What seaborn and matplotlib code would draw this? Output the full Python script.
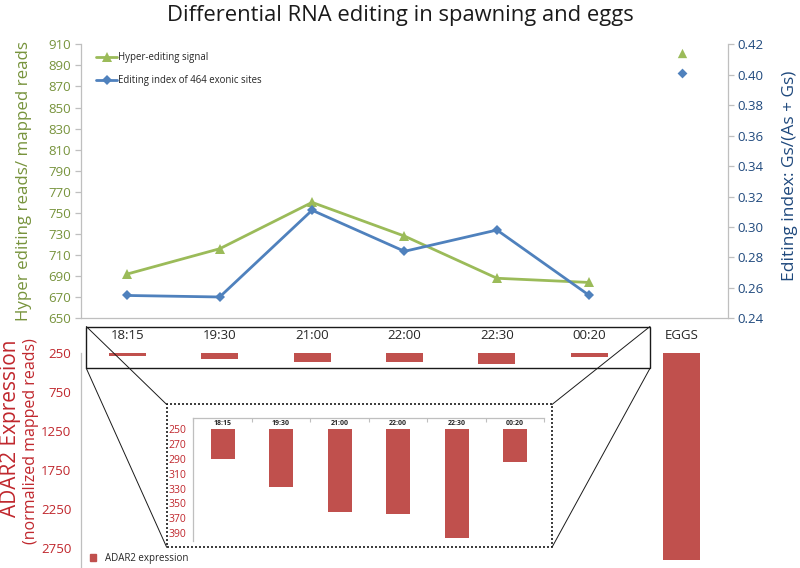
import numpy as np
import pandas as pd
import matplotlib
matplotlib.use("Agg")
import matplotlib.pyplot as plt
from matplotlib.lines import Line2D
from matplotlib.patches import Rectangle, Patch
import seaborn as sns

# ---- data ----
times = ["18:15", "19:30", "21:00", "22:00", "22:30", "00:20"]
groups = times + ["EGGS"]
hyper_signal = [692, 716, 760, 728, 688, 684]
hyper_eggs = 902
edit_index = [0.255, 0.254, 0.311, 0.284, 0.298, 0.255]
edit_eggs = 0.401
adar2 = [290, 328, 361, 364, 396, 295]
adar2_eggs = 2900

left_ticks = list(range(650, 911, 20))
right_ticks = [0.24, 0.26, 0.28, 0.30, 0.32, 0.34, 0.36, 0.38, 0.40, 0.42]
adar_ticks = [250, 750, 1250, 1750, 2250, 2750]
inset_ticks = list(range(250, 391, 20))

sns.set_theme(style="white")
plt.rcParams["font.family"] = ["Open Sans", "DejaVu Sans"]

GREEN, GREEN_TXT = "#9BBB59", "#77933C"
BLUE, BLUE_TXT = "#4F81BD", "#1F497D"
RED, RED_TXT = "#C0504D", "#C0272D"
GRAY = "#BFBFBF"

W, H = 800, 568
fig = plt.figure(figsize=(8, 5.68), dpi=100)


def px_box(x0, y0, x1, y1):
    # pixel box (top-left origin) -> figure fraction rect
    return [x0 / W, 1 - y1 / H, (x1 - x0) / W, (y1 - y0) / H]


def fx(x):
    return x / W


def fy(y):
    return 1 - y / H


def gray_spines(a, keep):
    for side, sp in a.spines.items():
        sp.set_visible(side in keep)
        sp.set_color(GRAY)
        sp.set_linewidth(0.9)


# ---------------- top: editing signal lines ----------------
ax = fig.add_axes(px_box(81, 44.3, 728, 318.3))
ax2 = ax.twinx()
pos = np.arange(len(times))
eggs_pos = groups.index("EGGS")

sns.lineplot(x=pos, y=hyper_signal, ax=ax, color=GREEN, lw=2, marker="^",
             markersize=7, markeredgewidth=0, label="Hyper-editing signal")
sns.scatterplot(x=[eggs_pos], y=[hyper_eggs], ax=ax, color=GREEN, marker="^",
                s=45, linewidth=0)
sns.lineplot(x=pos, y=edit_index, ax=ax2, color=BLUE, lw=2, marker="D",
             markersize=5, markeredgewidth=0, label="Editing index of 464 exonic sites")
sns.scatterplot(x=[eggs_pos], y=[edit_eggs], ax=ax2, color=BLUE, marker="D",
                s=25, linewidth=0)

ax.set_xlim(-0.5, len(groups) - 0.5)
ax.set_ylim(650, 910)
ax2.set_ylim(0.24, 0.42)
ax.set_yticks(left_ticks)
ax2.set_yticks(right_ticks)
ax2.set_yticklabels([f"{t:.2f}" for t in right_ticks])
ax.set_xticks(np.arange(-0.5, len(groups), 1))
ax.set_xticklabels([])
for a in (ax, ax2):
    a.set_xlabel("")
    a.set_ylabel("")
    if a.get_legend():
        a.get_legend().remove()
gray_spines(ax, ["left", "bottom"])
gray_spines(ax2, ["right"])
ax.tick_params(axis="x", length=4, color=GRAY, width=0.9, direction="out")
ax.tick_params(axis="y", length=4, color=GRAY, width=0.9, direction="out",
               labelsize=9.5, labelcolor=GREEN_TXT, pad=3)
ax2.tick_params(axis="y", length=4, color=GRAY, width=0.9, direction="out",
                labelsize=9.5, labelcolor=BLUE_TXT, pad=3)
ax.patch.set_visible(False)

h1, l1 = ax.get_legend_handles_labels()
h2, l2 = ax2.get_legend_handles_labels()
ax2.legend(h1 + h2, l1 + l2, loc="upper left", frameon=False, fontsize=6.9,
           handlelength=2.2, handletextpad=0.1, labelspacing=1.3,
           borderpad=0, borderaxespad=0, numpoints=1,
           bbox_to_anchor=(fx(96), fy(52)), bbox_transform=fig.transFigure)

# ---------------- bottom: ADAR2 bars ----------------
axb = fig.add_axes(px_box(81, 353, 728, 568))
bars = pd.DataFrame({"group": groups, "value": adar2 + [adar2_eggs]})
bars["height"] = bars["value"] - adar_ticks[0]
sns.barplot(data=bars, x="group", y="height", ax=axb, color=RED, width=0.4,
            saturation=1, linewidth=0, bottom=adar_ticks[0])
axb.set_ylim(3000, 250)
axb.set_yticks(adar_ticks)
axb.set_xlabel("")
axb.set_ylabel("")
axb.xaxis.tick_top()
axb.tick_params(axis="x", length=0, pad=8, labelsize=9.5, labelcolor="#262626")
axb.tick_params(axis="y", length=4, color=GRAY, width=0.9, direction="out",
                labelsize=9.5, labelcolor=RED_TXT, pad=3)
gray_spines(axb, ["left"])
axb.legend(handles=[Patch(color=RED)], labels=["ADAR2 expression"],
           loc="lower left", frameon=False, fontsize=7, handlelength=0.6,
           handleheight=0.6, handletextpad=0.9, borderpad=0, borderaxespad=0,
           bbox_to_anchor=(fx(90), fy(564)), bbox_transform=fig.transFigure)

# ---------------- inset zoom of the spawning bars ----------------
axi = fig.add_axes(px_box(193.3, 417.7, 544.3, 540.8))
inset = pd.DataFrame({"time": times, "value": adar2})
inset["height"] = inset["value"] - inset_ticks[0]
sns.barplot(data=inset, x="time", y="height", ax=axi, color=RED, width=0.41,
            saturation=1, linewidth=0, bottom=inset_ticks[0])
axi.set_ylim(400, 235)
axi.set_yticks(inset_ticks)
axi.set_xlabel("")
axi.set_ylabel("")
axi.set_xticks(np.arange(-0.5, len(times), 1))
axi.set_xticklabels([])
axi.xaxis.tick_top()
axi.tick_params(axis="x", length=3, color=GRAY, width=0.8, direction="in")
axi.tick_params(axis="y", length=3, color=GRAY, width=0.8, direction="out",
                labelsize=7.5, labelcolor=RED_TXT, pad=2)
gray_spines(axi, ["left", "top"])
axi.patch.set_visible(False)
for i, t in enumerate(times):
    axi.text(i, 0.955, t, transform=axi.get_xaxis_transform(), ha="center",
             va="center", fontsize=5, fontweight="bold", color="#262626")

# zoom boxes and connector lines
sx0, sy0, sx1, sy1 = 86.3, 326.5, 650, 368.3
dx0, dy0, dx1, dy1 = 166.7, 404.5, 552, 547.3
fig.add_artist(Rectangle((fx(sx0), fy(sy1)), fx(sx1) - fx(sx0), fy(sy0) - fy(sy1),
                         transform=fig.transFigure, fill=False, ec="#1a1a1a", lw=1.0))
fig.add_artist(Rectangle((fx(dx0), fy(dy1)), fx(dx1) - fx(dx0), fy(dy0) - fy(dy1),
                         transform=fig.transFigure, fill=False, ec="#1a1a1a", lw=1.2,
                         ls=(0, (1.2, 1.2))))
for (ax_, ay_), (bx_, by_) in [((sx0, sy0), (dx0, dy0)), ((sx0, sy1), (dx0, dy1)),
                               ((sx1, sy0), (dx1, dy0)), ((sx1, sy1), (dx1, dy1))]:
    fig.add_artist(Line2D([fx(ax_), fx(bx_)], [fy(ay_), fy(by_)],
                          transform=fig.transFigure, color="#1a1a1a", lw=0.7))

# ---------------- text ----------------
fig.text(0.5, fy(16), "Differential RNA editing in spawning and eggs",
         ha="center", va="center", fontsize=15.8, color="#1a1a1a")
fig.text(fx(24), fy(181), "Hyper editing reads/ mapped reads", rotation=90,
         ha="center", va="center", fontsize=12.2, color=GREEN_TXT)
fig.text(fx(790), fy(176), "Editing index: Gs/(As + Gs)", rotation=90,
         ha="center", va="center", fontsize=12.5, color=BLUE_TXT)
fig.text(fx(10.5), fy(428), "ADAR2 Expression", rotation=90,
         ha="center", va="center", fontsize=15, color=RED_TXT)
fig.text(fx(31), fy(441), "(normalized mapped reads)", rotation=90,
         ha="center", va="center", fontsize=11.5, color=RED_TXT)

fig.savefig("out.png", dpi=100, facecolor="white")
